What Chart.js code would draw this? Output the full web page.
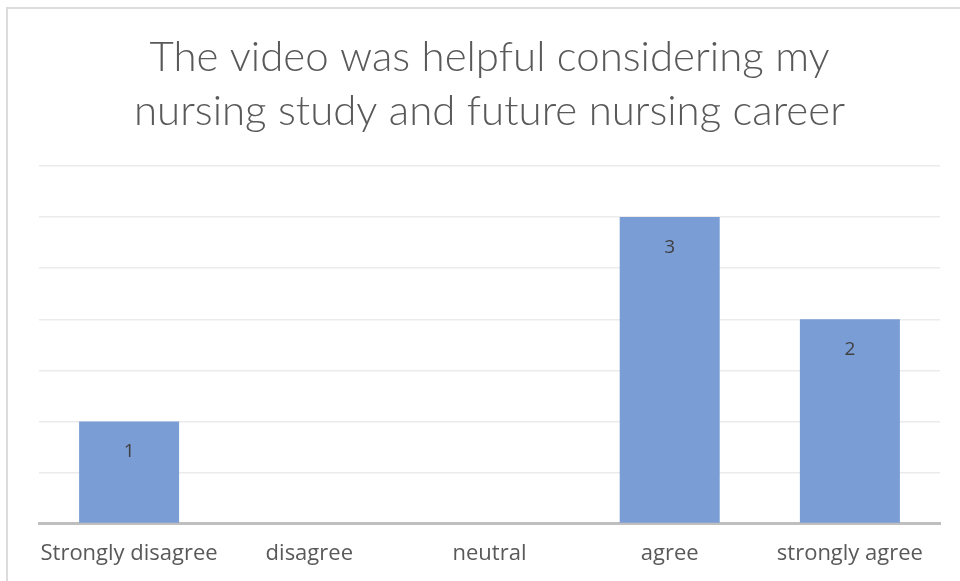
<!DOCTYPE html>
<html>
<head>
<meta charset="utf-8">
<script src="https://cdn.jsdelivr.net/npm/chart.js@4"></script>
<style>
  html, body { margin: 0; padding: 0; background: #fff; }
  body { width: 960px; height: 581px; overflow: hidden; position: relative; }
  #frame { position: absolute; left: 6px; top: 7px; width: 970px; height: 600px; border: 2px solid #dcdcdc; box-sizing: border-box; }
  #wrap { position: absolute; left: 0; top: 0; width: 960px; height: 581px; }
</style>
</head>
<body>
<div id="frame"></div>
<div id="wrap"><canvas id="c" width="960" height="581"></canvas></div>
<script>
const categories = ["Strongly disagree", "disagree", "neutral", "agree", "strongly agree"];
const counts = [1, 0, 0, 3, 2];
const titleLines = ["The video was helpful considering my", "nursing study and future nursing career"];

const dataLabels = {
  id: 'dataLabels',
  afterDatasetsDraw(chart) {
    const ctx = chart.ctx;
    const meta = chart.getDatasetMeta(0);
    ctx.save();
    ctx.font = '19px "Open Sans", Lato, sans-serif';
    ctx.fillStyle = '#404040';
    ctx.textAlign = 'center';
    ctx.textBaseline = 'middle';
    meta.data.forEach((bar, i) => {
      const v = counts[i];
      if (!v) return;
      ctx.fillText(String(v), bar.x, bar.y + 30);
    });
    ctx.restore();
  }
};

new Chart(document.getElementById('c'), {
  type: 'bar',
  data: {
    labels: categories,
    datasets: [{
      data: counts,
      backgroundColor: 'rgb(122,157,214)',
      borderWidth: 0,
      categoryPercentage: 0.555,
      barPercentage: 1.0
    }]
  },
  options: {
    responsive: false,
    animation: false,
    layout: { padding: { left: 39, right: 20, top: 30, bottom: 5 } },
    plugins: {
      legend: { display: false },
      tooltip: { enabled: false },
      title: {
        display: true,
        text: titleLines,
        color: '#595959',
        font: { family: 'Lato, "Open Sans", sans-serif', size: 42, weight: '300', lineHeight: 1.286 },
        padding: { top: 0, bottom: 28 }
      }
    },
    scales: {
      x: {
        grid: { display: false },
        border: { display: true, color: '#bfbfbf', width: 3 },
        ticks: {
          color: '#595959',
          font: { family: '"Open Sans", Lato, sans-serif', size: 22 },
          padding: 9,
          maxRotation: 0,
          autoSkip: false
        }
      },
      y: {
        min: 0,
        max: 3.5,
        ticks: { display: false, stepSize: 0.5 },
        grid: { color: '#ebebeb', lineWidth: 1.5, drawTicks: false },
        border: { display: false }
      }
    }
  },
  plugins: [dataLabels]
});
</script>
</body>
</html>
